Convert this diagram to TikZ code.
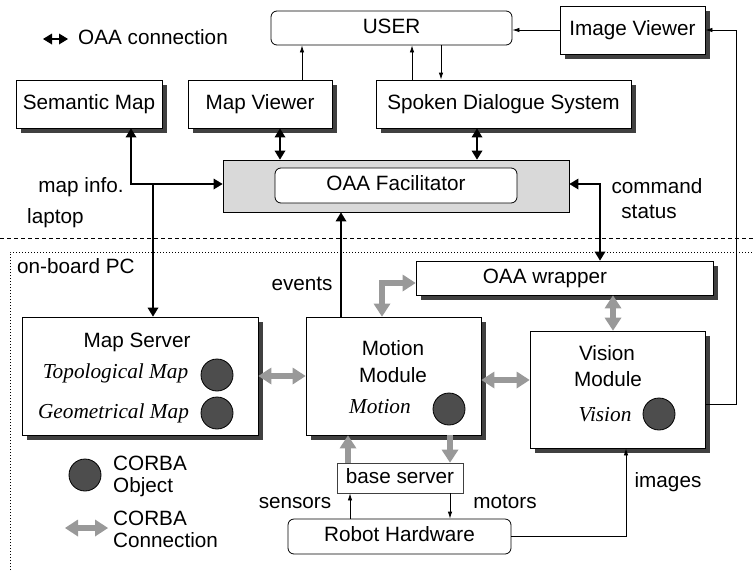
\documentclass[tikz,border=0pt]{standalone}
\usepackage{fontspec}
\setmainfont{Liberation Sans}
\newfontfamily\timesfam{Liberation Serif}
\usetikzlibrary{arrows.meta,backgrounds}
\definecolor{shade}{RGB}{64,64,64}
\definecolor{corba}{RGB}{153,153,153}
\definecolor{facfill}{RGB}{217,217,217}
\definecolor{objfill}{RGB}{77,77,77}
\begin{document}
\begin{tikzpicture}[x=1pt,y=-1pt,
  font=\fontsize{20.7}{22}\selectfont,
  every node/.style={inner sep=0pt,text height=14.5pt,text depth=4pt},
  sbox/.style={draw,line width=0.8pt,fill=white},
  rbox/.style={draw,line width=0.8pt,fill=white,rounded corners=6pt},
  obj/.style={circle,draw,line width=0.8pt,fill=objfill,minimum size=32pt,text height=0pt,text depth=0pt},
  it/.style={font=\fontsize{21.3}{23}\timesfam\itshape},
  thintip/.tip={Latex[length=7pt,width=4.5pt]},
  oaatip/.tip={Triangle[length=9pt,width=11pt,line width=0pt]},
  ctip/.tip={Triangle[length=13pt,width=17pt,line width=0pt]},
  thin arrow/.style={line width=0.8pt,-thintip},
  oaa/.style={line width=2.6pt},
  corbaline/.style={draw=corba,line width=6pt},
  shadowof/.style={fill=shade},
]
\useasboundingbox (0,0) rectangle (754,570);

% region borders
\draw[line width=0.8pt,dash pattern=on 4pt off 3pt] (0,238) -- (754,238);
\draw[line width=0.9pt,dash pattern=on 1pt off 2pt] (10,570) -- (10,252) -- (754,252);
\node[anchor=west] (laptop) at (27,218) {laptop};
\node[anchor=west] (onboard) at (17,268) {on-board PC};

% laptop side
\node[rbox,minimum width=241pt,minimum height=34pt] (user) at (391.5,28) {USER};
\node[sbox,minimum width=145pt,minimum height=48pt] (imgv) at (632.5,30) {Image Viewer};
\node[sbox,minimum width=146pt,minimum height=48pt] (sem) at (89,104) {Semantic Map};
\node[sbox,minimum width=144pt,minimum height=48pt] (mapv) at (260,104) {Map Viewer};
\node[sbox,minimum width=255pt,minimum height=48pt] (sds) at (503.5,104) {Spoken Dialogue System};
\node[draw,line width=0.8pt,fill=facfill,minimum width=346pt,minimum height=52pt] (fac) at (396,186) {};
\node[rbox,minimum width=242pt,minimum height=35pt] (facin) at (396,185.5) {OAA Facilitator};

% on-board side
\node[sbox,minimum width=297pt,minimum height=34pt] (wrap) at (564.5,278) {};
\node (wraptxt) at (545,278) {OAA wrapper};
\node[sbox,minimum width=236pt,minimum height=118pt] (ms) at (140,376) {};
\node[sbox,minimum width=175pt,minimum height=118pt] (motion) at (393.5,376) {};
\node[sbox,minimum width=175pt,minimum height=117pt] (vision) at (617.5,389.5) {};
\node[draw=black!75,line width=0.8pt,fill=white,minimum width=126pt,minimum height=30pt] (base) at (400,478) {base server};
\node[rbox,minimum width=223pt,minimum height=35pt] (robot) at (399.5,536.5) {Robot Hardware};

% drop shadows behind the square boxes
\begin{scope}[on background layer]
  \foreach \b in {imgv,sem,mapv,sds,wrap,ms,motion,vision}
    \fill[shadowof] ([shift={(5pt,-5pt)}]\b.south west) rectangle ([shift={(5pt,-5pt)}]\b.north east);
\end{scope}

% module contents
\node (mstitle) at (137,342) {Map Server};
\node[it] (topo) at (115.5,373) {Topological Map};
\node[obj] (otopo) at (217,375) {};
\node[it] (geo) at (113.5,413) {Geometrical Map};
\node[obj] (ogeo) at (217,413) {};
\node (mot1) at (393,350) {Motion};
\node (mot2) at (393,377) {Module};
\node[it] (motobj) at (380,408) {Motion};
\node[obj] (omot) at (449,409) {};
\node (vis1) at (607,355) {Vision};
\node (vis2) at (608,381) {Module};
\node[it] (visobj) at (605,416) {Vision};
\node[obj] (ovis) at (659,414) {};

% legend
\coordinate (la) at (43,39);
\coordinate (lb) at (68,39);
\draw[oaa,oaatip-oaatip] (la) -- (lb);
\node[anchor=west] (legoaa) at (78,39) {OAA connection};
\node[obj] (legobj) at (85,475) {};
\node[anchor=west] (legobj1) at (113,465) {CORBA};
\node[anchor=west] (legobj2) at (113,487) {Object};
\coordinate (ca) at (65,528);
\coordinate (cb) at (108,528);
\draw[corbaline,ctip-ctip] (ca) -- (cb);
\node[anchor=west] (legc1) at (113,520) {CORBA};
\node[anchor=west] (legc2) at (113,542) {Connection};

% thin data links
\draw[thin arrow] (302,0 |- mapv.north) -- (302,0 |- user.south);
\draw[thin arrow] (412,0 |- sds.north) -- (412,0 |- user.south);
\draw[thin arrow] (441,0 |- user.south) -- (441,0 |- sds.north);
\draw[thin arrow] (imgv.west) -- (imgv.west -| user.east);
\draw[thin arrow] (vision.east |- 0,404) -| (736,0 |- imgv.east) -- (imgv.east);
\draw[thin arrow] (robot.east) -| (626,0 |- vision.south);
\draw[thin arrow] (450,0 |- base.south) -- (450,0 |- robot.north);
\draw[thin arrow] (350,0 |- robot.north) -- (350,0 |- base.south);

% CORBA connections
\draw[corbaline,-ctip] (348,0 |- base.north) -- (348,0 |- motion.south);
\draw[corbaline,-ctip] (450,0 |- motion.south) -- (450,0 |- base.north);
\draw[corbaline,ctip-ctip] (ms.east) -- (motion.west);
\draw[corbaline,ctip-ctip] (motion.east |- 0,380) -- (vision.west |- 0,380);
\draw[corbaline,ctip-ctip] (613,0 |- wrap.south) -- (613,0 |- vision.north);
\draw[corbaline,ctip-ctip,line join=miter] (wrap.west |- 0,283) -| (382,0 |- motion.north);

% OAA connections
\draw[oaa,-oaatip] (341,0 |- motion.north) -- (341,0 |- fac.south);
\draw[oaa,oaatip-oaatip] (280,0 |- mapv.south) -- (280,0 |- fac.north);
\draw[oaa,oaatip-oaatip] (477,0 |- sds.south) -- (477,0 |- fac.north);
\draw[oaa,oaatip-oaatip,line join=miter] (131,0 |- sem.south) |- (fac.west |- 0,184);
\draw[oaa,-oaatip] (153,184) -- (153,0 |- ms.north);
\draw[oaa,oaatip-oaatip,line join=miter] (fac.east |- 0,184) -| (600,0 |- wrap.north);

% link labels
\node (mapinfo) at (81,187) {map info.};
\node (events) at (302,285) {events};
\node (command) at (657,188) {command};
\node (status) at (649,213) {status};
\node (sensors) at (295,503) {sensors};
\node (motors) at (505,503) {motors};
\node (images) at (668,482) {images};
\end{tikzpicture}
\end{document}
